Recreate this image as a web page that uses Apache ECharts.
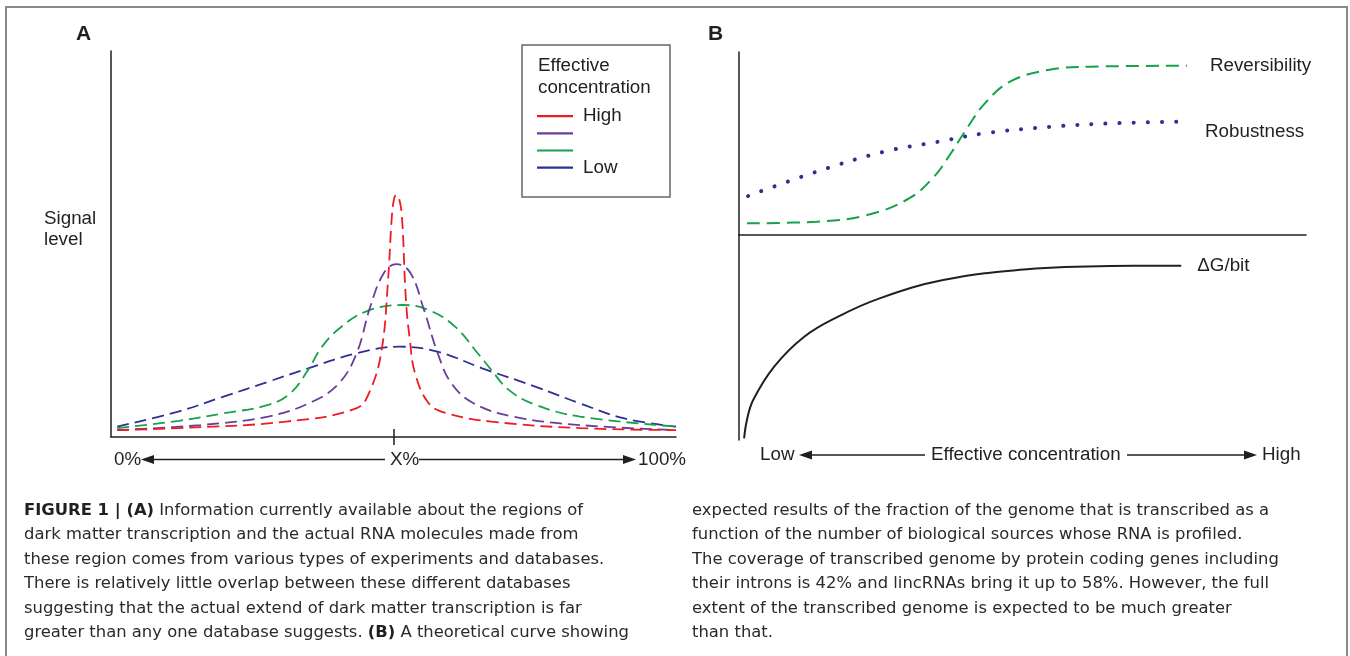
<!DOCTYPE html>
<html>
<head>
<meta charset="utf-8">
<script src="https://cdn.jsdelivr.net/npm/echarts@6/dist/echarts.min.js"></script>
<style>
  html, body { margin: 0; padding: 0; background: #fff; }
  #main { width: 1350px; height: 656px; }
</style>
</head>
<body>
<div id="main"></div>
<script>
// panel A: signal level vs position (x in %, y in arbitrary units 0-100)
const highCurve = [[1.1,1.8],[12,2.3],[31,4],[43.5,7.5],[45.9,12.2],[47.9,22.5],[49,39.9],[49.7,57],[50.1,61.7],
  [50.5,62.7],[51,61.7],[51.5,57],[52.2,35.5],[52.9,25],[53.8,16.6],[56.2,8.8],[59.3,6.2],[67.3,4],[83,2.3],[100,1.8]];
const midHighCurve = [[1.1,1.8],[15.9,3.1],[27.8,5.3],[35.7,9.2],[40.4,14],[43.5,21.8],[45.9,33.8],[48.3,42.5],
  [50.5,44.8],[53,42.5],[55.4,32.9],[57.8,21.8],[60.2,14],[64.1,8.8],[71.2,5.3],[83,3.1],[100,1.8]];
const midLowCurve = [[1.1,2.3],[12,4.2],[19.8,6.1],[27.8,8.3],[31.7,11.3],[34.9,17.4],[37.2,23.1],[40.4,28.1],
  [45.1,32.5],[51.5,34.2],[56.2,32.9],[60.9,28.6],[64.9,21.7],[67.3,17.4],[70.4,12.2],[75.2,8.3],[83,5.3],[100,2.7]];
const lowCurve = [[1.1,2.7],[11.9,6.6],[19.8,10.4],[27.8,14.3],[34.9,17.8],[43.5,21.7],[51,23.4],[57.8,22.1],
  [65.7,17.8],[75.2,13],[83,8.7],[90.9,4.8],[100,2.7]];
const legendNames = ['High', 'mid-high', 'mid-low', 'Low'];

// panel B
const reversibility = [[1.4,6.4],[13.7,7.3],[22.6,10.9],[30,20],[34.4,31.9],[37.4,44.8],[40.4,59.2],[43.4,72.1],
  [47.8,83.8],[54.5,90.2],[61.9,92],[79,92.5]];
const robustness = [[1.6,21.3],[13.7,34.6],[25.6,45.5],[35.2,51],[43.4,55.6],[55.2,59.2],[65.6,61],[77.6,61.9]];
const deltaG = [[0.9,0.8],[1.4,9.8],[2.5,19.5],[6.2,35.8],[11.5,50.4],[17.4,60.1],[24.8,69.1],[36,78],
  [50.8,83.3],[65.6,84.9],[78,85]];

const leftCaption = [
  '{b|FIGURE 1 | (A)} Information currently available about the regions of',
  'dark matter transcription and the actual RNA molecules made from',
  'these region comes from various types of experiments and databases.',
  'There is relatively little overlap between these different databases',
  'suggesting that the actual extend of dark matter transcription is far',
  'greater than any one database suggests. {b|(B)} A theoretical curve showing'
];
const rightCaption = [
  'expected results of the fraction of the genome that is transcribed as a',
  'function of the number of biological sources whose RNA is profiled.',
  'The coverage of transcribed genome by protein coding genes including',
  'their introns is 42% and lincRNAs bring it up to 58%. However, the full',
  'extent of the transcribed genome is expected to be much greater',
  'than that.'
];

const ink = '#231f20';
const font = "'Liberation Sans', Arial, sans-serif";
const capFont = "'DejaVu Sans', sans-serif";
const chart = echarts.init(document.getElementById('main'));

function hideAxis(extra) {
  return Object.assign({
    type: 'value', min: 0, max: 100,
    axisLine: { show: false }, axisTick: { show: false },
    axisLabel: { show: false }, splitLine: { show: false }
  }, extra);
}
const axisLine = { show: true, onZero: false, lineStyle: { color: ink, width: 1.5 } };

function dashed(name, data, color) {
  return {
    name: name, type: 'line', xAxisIndex: 0, yAxisIndex: 0, data: data,
    smooth: 0.4, symbol: 'none', silent: true,
    lineStyle: { color: color, width: 1.8, type: [12, 6] },
    itemStyle: { color: color }
  };
}

function arrow(xFrom, xTip, y) {
  const dir = xTip > xFrom ? 1 : -1;
  const base = xTip - dir * 13;
  return [
    { type: 'line', shape: { x1: xFrom, y1: y, x2: base, y2: y }, style: { stroke: ink, lineWidth: 1.5 } },
    { type: 'polygon', shape: { points: [[xTip, y], [base, y - 4.5], [base, y + 4.5]] }, style: { fill: ink } }
  ];
}

function label(text, x, y, size, weight) {
  return {
    type: 'text',
    style: { x: x, y: y, text: text, fill: ink, font: (weight || 'normal') + ' ' + size + 'px ' + font,
      align: 'left', verticalAlign: 'middle' }
  };
}

const option = {
  animation: false,
  grid: [
    { left: 111, top: 51, width: 565, height: 386, containLabel: false },
    { left: 739, top: 52, width: 567, height: 183, containLabel: false },
    { left: 739, top: 235, width: 567, height: 205, containLabel: false }
  ],
  xAxis: [
    hideAxis({ gridIndex: 0, position: 'bottom', axisLine: axisLine,
      axisTick: { show: true, customValues: [50], inside: true, length: 8, lineStyle: { color: ink, width: 1.5 } } }),
    hideAxis({ gridIndex: 0, position: 'bottom',
      axisTick: { show: true, customValues: [50], inside: false, length: 8, lineStyle: { color: ink, width: 1.5 } } }),
    hideAxis({ gridIndex: 1, axisLine: axisLine }),
    hideAxis({ gridIndex: 2 })
  ],
  yAxis: [
    hideAxis({ gridIndex: 0, axisLine: axisLine }),
    hideAxis({ gridIndex: 1, axisLine: axisLine }),
    hideAxis({ gridIndex: 2, axisLine: axisLine })
  ],
  legend: {
    orient: 'vertical', left: 537, top: 106.6, padding: 0,
    icon: 'rect', itemWidth: 36, itemHeight: 2.2, itemGap: -1.8,
    data: legendNames, selectedMode: false,
    formatter: function (name) { return (name === 'High' || name === 'Low') ? name : ' '; },
    textStyle: { fontSize: 18.8, color: ink, fontFamily: font, padding: [0, 0, 0, 5] }
  },
  series: [
    dashed('Low', lowCurve, '#2e3192'),
    dashed('mid-low', midLowCurve, '#18a14b'),
    dashed('mid-high', midHighCurve, '#6a3d98'),
    dashed('High', highCurve, '#ec1c24'),
    {
      name: 'Reversibility', type: 'line', xAxisIndex: 2, yAxisIndex: 1, data: reversibility,
      smooth: 0.4, symbol: 'none', silent: true,
      lineStyle: { color: '#18a14b', width: 2, type: [13, 7] },
      endLabel: { show: true, formatter: '{a}', distance: 23, color: ink, fontSize: 18.8, fontFamily: font }
    },
    {
      name: 'Robustness', type: 'line', xAxisIndex: 2, yAxisIndex: 1, data: robustness,
      smooth: 0.4, symbol: 'none', silent: true,
      lineStyle: { color: '#2e3192', width: 4, type: [0.1, 14], cap: 'round' },
      endLabel: { show: true, formatter: '{a}', distance: 26, offset: [0, 10], color: ink, fontSize: 18.8, fontFamily: font }
    },
    {
      name: '\u0394G/bit', type: 'line', xAxisIndex: 3, yAxisIndex: 2, data: deltaG,
      smooth: 0.4, symbol: 'none', silent: true,
      lineStyle: { color: ink, width: 2 },
      endLabel: { show: true, formatter: '{a}', distance: 16, color: ink, fontSize: 18.8, fontFamily: font }
    }
  ],
  graphic: [
    { type: 'rect', shape: { x: 6, y: 7, width: 1341, height: 670 }, style: { fill: 'none', stroke: '#8a8a8a', lineWidth: 2 } },
    label('A', 76, 34, 21, 'bold'),
    label('B', 708, 34, 21, 'bold'),
    { type: 'rect', shape: { x: 522, y: 45, width: 148, height: 152 }, style: { fill: 'none', stroke: '#666', lineWidth: 1.5 } },
    label('Effective', 538, 66, 18.8),
    label('concentration', 538, 88, 18.8),
    label('Signal', 44, 219, 18.8),
    label('level', 44, 240, 18.8),
    label('0%', 114, 459.5, 18.8),
    label('X%', 390, 459.5, 18.8),
    label('100%', 638, 459.5, 18.8),
    label('Low', 760, 455, 18.8),
    label('Effective concentration', 931, 455, 18.8),
    label('High', 1262, 455, 18.8)
  ].concat(arrow(385, 141, 459.5), arrow(419, 636, 459.5), arrow(925, 799, 455), arrow(1127, 1257, 455)).concat([
    {
      type: 'text',
      style: {
        x: 24, y: 498.5, text: leftCaption.join('\n'), fill: '#2a2a2a', fontSize: 16.4, fontFamily: capFont,
        lineHeight: 24.4, verticalAlign: 'top',
        rich: { b: { fontWeight: 'bold', fontSize: 16.4, fontFamily: capFont, fill: ink, lineHeight: 24.4 } }
      }
    },
    {
      type: 'text',
      style: {
        x: 692, y: 498.5, text: rightCaption.join('\n'), fill: '#2a2a2a', fontSize: 16.4, fontFamily: capFont,
        lineHeight: 24.4, verticalAlign: 'top'
      }
    }
  ])
};
chart.setOption(option);
</script>
</body>
</html>
